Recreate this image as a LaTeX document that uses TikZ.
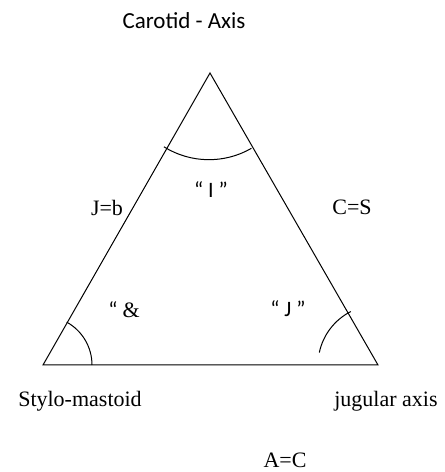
\documentclass[tikz,border=0pt]{standalone}
\usepackage{fontspec}
\setmainfont{Liberation Serif}
\newfontfamily\calfont{Carlito}
\usetikzlibrary{positioning,calc}

\begin{document}
\begin{tikzpicture}[
      x=1pt, y=1pt,
      side/.style={draw, line width=1pt, line join=miter},
      angarc/.style={draw, line width=1pt},
      serlabel/.style={font=\fontsize{22}{24}\selectfont, inner sep=0pt},
      sanslabel/.style={font=\calfont\fontsize{23}{26}\selectfont, inner sep=0pt},
      qlabel/.style={font=\calfont\fontsize{22}{24}\selectfont, inner sep=0pt}
    ]
      \useasboundingbox (0,0) rectangle (445,472);
      \coordinate (apex) at (210,399);
      \coordinate (sm) at (43,107);
      \coordinate (ja) at (378,107);

      % triangle
      \draw[side] (apex) -- (sm) -- (ja) -- cycle;

      % angle marks
      \draw[angarc] ($(apex)+(238:87)$) arc[start angle=238, end angle=300, radius=85];
      \draw[angarc] ($(sm)+(0:49)$) arc[start angle=0, end angle=61, radius=49];
      \draw[angarc] ($(ja)+(117:60)$) arc[start angle=117, end angle=168, radius=60];

      % labels
      \node[sanslabel, anchor=base] (carotid) at (184,443) {Carotid - Axis};
      \node[serlabel, anchor=base] (stylo) at (80,65) {Stylo-mastoid};
      \node[serlabel, anchor=base] (jugular) at (386,65) {jugular axis};
      \node[serlabel, anchor=base] (ac) at (285,5) {A=C};
      \node[serlabel] (jb) at (107,264) {J=b};
      \node[serlabel] (cs) at (352,265) {C=S};

      \node[qlabel] (qi) at (211,282) {“ I ”};
      \node[qlabel] (qamp) at (124,162) {“ {\rmfamily\&}};
      \node[qlabel] (qj) at (288,163) {“ J ”};
    \end{tikzpicture}
\end{document}
